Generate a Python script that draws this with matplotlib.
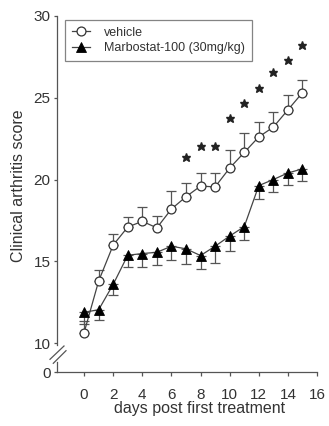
import matplotlib
matplotlib.use("Agg")
import matplotlib.pyplot as plt
from matplotlib.lines import Line2D

plt.rcParams['font.family'] = ['Liberation Sans', 'DejaVu Sans']

# ---- data ----
days = [0, 1, 2, 3, 4, 5, 6, 7, 8, 9, 10, 11, 12, 13, 14, 15]
vehicle = [10.65, 13.8, 16.0, 17.1, 17.45, 17.05, 18.2, 18.95, 19.6, 19.55,
           20.7, 21.65, 22.6, 23.2, 24.25, 25.3]
vehicle_err = [0.7, 0.65, 0.7, 0.6, 0.9, 0.75, 1.1, 0.85, 0.8, 0.85,
               1.1, 1.2, 0.9, 0.9, 0.9, 0.8]
marbo = [11.9, 12.05, 13.6, 15.38, 15.48, 15.56, 15.93, 15.77, 15.36, 15.93,
         16.55, 17.12, 19.63, 20.0, 20.4, 20.65]
marbo_err = [0.7, 0.65, 0.65, 0.7, 0.8, 0.8, 0.85, 0.95, 0.85, 1.0,
             0.9, 0.8, 0.8, 0.75, 0.72, 0.75]
star_days = [7, 8, 9, 10, 11, 12, 13, 14, 15]
star_y = [21.4, 22.05, 22.05, 23.74, 24.7, 25.6, 26.58, 27.3, 28.2]
yticks_top = [10, 15, 20, 25, 30]
xticks = [0, 2, 4, 6, 8, 10, 12, 14, 16]
labels = ["vehicle", "Marbostat-100 (30mg/kg)"]

W, H = 329, 426
fig = plt.figure(figsize=(W / 100, H / 100), dpi=100)

line_c = '#444444'
text_c = '#333333'
spine_c = '#555555'

# main axis (10-30)
ax = fig.add_axes([57 / W, 1 - 345 / H, 260 / W, (345 - 15.7) / H])
# bottom stub axis (0)
ax2 = fig.add_axes([57 / W, 1 - 372.3 / H, 260 / W, (372.3 - 362) / H])

zeros = [0] * len(days)
ax.errorbar(days, vehicle, yerr=[zeros, vehicle_err], fmt='none', ecolor='#555555',
            elinewidth=0.9, capsize=3.5, capthick=0.9, clip_on=False, zorder=2)
ax.errorbar(days, marbo, yerr=[marbo_err, zeros], fmt='none', ecolor='#555555',
            elinewidth=0.9, capsize=3.5, capthick=0.9, clip_on=False, zorder=2)
ax.plot(days, vehicle, '-o', color=line_c, lw=0.9, ms=6.4, mfc='white',
        mec='#333333', mew=0.9, clip_on=False, zorder=4, label=labels[0])
ax.plot(days, marbo, '-^', color=line_c, lw=0.9, ms=7, mfc='black',
        mec='black', mew=0.6, clip_on=False, zorder=4, label=labels[1])
ax.plot(star_days, star_y, '*', color='#222222', ms=6.3, ls='none', zorder=5)

for a in (ax, ax2):
    a.set_xlim(-1.86, 16)
    for s in ('top', 'right'):
        a.spines[s].set_visible(False)
    for s in ('left', 'bottom'):
        a.spines[s].set_color(spine_c)
        a.spines[s].set_linewidth(0.9)
    a.tick_params(colors=spine_c, labelcolor=text_c, labelsize=11, width=0.9,
                  direction='out')
    a.tick_params(axis='y', length=2.5, pad=2)
    a.patch.set_visible(False)

ax.set_ylim(9.9, 30)
ax.set_yticks(yticks_top)
ax.spines['bottom'].set_visible(False)
ax.tick_params(axis='x', bottom=False, labelbottom=False)
ax.set_ylabel('Clinical arthritis score', fontsize=11.5, color=text_c)
ax.yaxis.set_label_coords(-0.121, 0.483)

ax2.set_ylim(0, 0.6)
ax2.set_yticks([0])
ax2.set_xticks(xticks)
ax2.tick_params(axis='x', length=3, pad=8)
ax2.set_xlabel('days post first treatment', fontsize=11.5, color=text_c)
ax2.xaxis.set_label_coords((200 - 57) / 260, -2.8)

leg = ax.legend(loc='upper left', bbox_to_anchor=(0.031, 0.987), borderaxespad=0,
                frameon=True, fancybox=False, fontsize=9, handlelength=1.45,
                handletextpad=1.1, labelspacing=0.25, borderpad=0.55)
leg.get_frame().set_edgecolor('#666666')
leg.get_frame().set_linewidth(0.9)
for t in leg.get_texts():
    t.set_color(text_c)

# axis break marks
for (x0, y0, x1, y1) in [(50, 359.3, 64, 346), (53.3, 363.3, 66, 350.7)]:
    fig.add_artist(Line2D([x0 / W, x1 / W], [1 - y0 / H, 1 - y1 / H],
                          transform=fig.transFigure, color=spine_c, lw=0.9))

fig.savefig('out.png', dpi=100)
